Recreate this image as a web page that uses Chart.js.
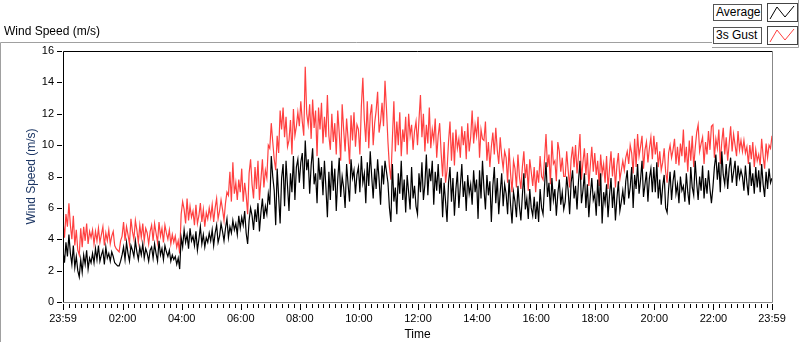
<!DOCTYPE html>
<html>
<head>
<meta charset="utf-8">
<script src="https://cdn.jsdelivr.net/npm/chart.js@4.4.1/dist/chart.umd.min.js"></script>
<style>
  body { margin: 0; background: #fff; }
  #wrap { position: relative; width: 800px; height: 342px; overflow: hidden; }
  #chart { position: absolute; left: 0; top: 0; }
  .lbl { position: absolute; font: 12px "Liberation Sans", Arial, sans-serif; color: #000; white-space: nowrap; }
  .legName { position: absolute; height: 17px; line-height: 17px; border: 1px solid #555; background: #fff;
             font: 12px "Liberation Sans", Arial, sans-serif; padding: 0 2px; box-sizing: border-box; }
  .legIcon { position: absolute; width: 31px; height: 19px; border: 1px solid #444; background: #fff; box-sizing: border-box; }
</style>
</head>
<body>
<div id="wrap">
  <canvas id="chart" width="800" height="342"></canvas>
  <div class="lbl" style="left:4px; top:24px;">Wind Speed (m/s)</div>
  <div class="legName" style="left:713px; top:4px; width:49px;">Average</div>
  <div class="legIcon" style="left:767px; top:3px;">
    <svg width="29" height="17"><polyline points="2,15 9,3 17,13 26,2" fill="none" stroke="#000" stroke-width="1"/></svg>
  </div>
  <div class="legName" style="left:713px; top:27px; width:49px;">3s Gust</div>
  <div class="legIcon" style="left:767px; top:26px;">
    <svg width="29" height="17"><polyline points="2,15 9,3 17,13 26,2" fill="none" stroke="#ff4040" stroke-width="1"/></svg>
  </div>
</div>
<script>
// Wind speed over one day, one sample every 3 minutes
const STEP_MIN = 3;

// Average wind speed (m/s), one row = one hour
const avgSpeed = [
  3.3, 2.5, 3.8, 2.9, 4.3, 3.1, 2.4, 3.6, 2.2, 2.9, 2.0, 1.6, 2.7, 1.9, 3.0, 2.4, 3.3, 2.1, 2.8, 2.5,
  3.1, 2.5, 3.4, 2.7, 3.6, 2.6, 3.0, 3.3, 2.4, 3.5, 2.8, 3.1, 2.6, 3.2, 2.9, 2.5, 2.4, 2.3, 2.3, 2.6,
  3.0, 3.5, 2.7, 3.8, 3.1, 2.6, 3.6, 3.3, 2.9, 3.9, 3.2, 2.7, 3.5, 3.0, 3.7, 2.8, 3.4, 3.1, 2.6, 3.3,
  3.5, 2.8, 3.7, 3.1, 2.6, 3.9, 3.0, 3.4, 2.7, 3.6, 3.2, 2.9, 3.3, 2.6, 3.0, 2.7, 2.9, 2.4, 2.8, 2.1,
  4.1, 3.5, 4.6, 3.8, 4.3, 3.4, 4.7, 3.9, 4.2, 3.6, 4.5, 3.3, 4.0, 4.8, 3.7, 4.3, 3.5, 4.1, 3.8, 4.4,
  3.9, 4.6, 3.6, 4.4, 4.9, 3.8, 4.2, 5.0, 4.5, 3.9, 4.7, 5.3, 4.1, 4.8, 4.4, 5.2, 4.6, 5.0, 4.3, 5.5,
  4.7, 5.4, 4.9, 5.8, 4.4, 3.7, 5.2, 6.0, 5.5, 4.6, 5.9, 5.1, 6.3, 4.5, 5.7, 6.6, 5.3, 6.1, 5.6, 6.9,
  6.2, 9.3, 8.0, 7.1, 4.9, 8.5, 6.7, 5.0, 7.9, 8.8, 6.1, 9.0, 7.4, 5.8, 8.2, 7.0, 9.3, 6.5, 8.6, 9.1,
  7.6, 8.9, 9.5, 7.2, 10.3, 8.4, 9.1, 6.9, 8.7, 9.8, 7.5, 8.2, 6.3, 9.2, 7.8, 8.6, 6.8, 9.0, 7.3, 5.4,
  8.3, 6.5, 9.0, 7.1, 8.5, 5.8, 7.8, 9.2, 6.7, 8.0, 7.3, 6.0, 8.8, 7.5, 6.4, 9.1, 7.9, 8.4, 6.9, 8.1,
  8.6, 7.0, 9.3, 7.6, 8.2, 6.3, 8.9, 7.4, 9.6, 8.0, 6.6, 8.5, 7.2, 9.1, 7.8, 6.2, 8.7, 7.5, 9.0, 8.3,
  7.6, 6.0, 5.1, 8.8, 6.4, 7.3, 5.6, 8.2, 6.9, 9.0, 6.5, 7.8, 5.7, 8.1, 7.0, 5.9, 8.6, 6.6, 7.4, 6.1,
  5.6, 8.2, 7.0, 8.9, 6.5, 7.5, 9.4, 6.8, 8.5, 7.7, 9.0, 6.2, 8.3, 7.1, 8.8, 6.9, 7.9, 5.4, 7.6, 6.4,
  5.1, 7.6, 8.6, 6.4, 7.9, 5.5, 7.2, 8.3, 6.0, 7.4, 8.8, 6.7, 7.7, 5.8, 8.1, 6.9, 7.5, 6.2, 8.4, 7.0,
  7.8, 5.3, 8.4, 6.6, 9.0, 7.2, 5.9, 8.1, 6.8, 7.7, 5.1, 7.4, 8.6, 6.3, 7.9, 5.6, 7.0, 8.2, 6.1, 7.5,
  6.9, 5.6, 7.8, 6.2, 5.0, 7.0, 6.4, 5.4, 7.4, 6.1, 5.2, 6.8, 8.2, 5.9, 6.6, 5.3, 7.2, 6.0, 5.5, 6.7,
  5.3, 6.4, 5.1, 7.2, 6.0, 5.6, 7.4, 8.9, 6.7, 7.6, 5.8, 7.9, 6.5, 7.2, 5.5, 6.9, 7.8, 6.2, 7.0, 5.9,
  6.4, 8.0, 7.1, 5.6, 7.6, 8.4, 6.6, 7.4, 5.9, 7.7, 9.0, 6.3, 7.1, 8.2, 6.0, 7.5, 5.4, 6.8, 7.9, 6.5,
  6.9, 5.5, 7.8, 6.1, 8.2, 5.0, 7.0, 6.3, 7.5, 5.4, 6.8, 7.9, 6.0, 7.3, 5.2, 6.6, 7.7, 5.8, 6.4, 7.1,
  6.2, 7.7, 8.4, 6.6, 7.3, 8.6, 6.0, 8.1, 7.2, 8.8, 6.9, 7.8, 9.0, 6.7, 7.5, 8.3, 6.4, 7.9, 8.5, 7.0,
  8.6, 7.0, 8.9, 6.6, 7.8, 6.2, 7.4, 8.1, 6.0, 5.7, 7.2, 8.3, 6.5, 7.7, 8.4, 6.9, 7.5, 6.3, 8.0, 7.1,
  7.4, 6.4, 8.2, 7.0, 6.2, 8.6, 7.3, 6.8, 9.0, 7.6, 6.5, 8.0, 7.1, 8.7, 6.6, 7.9, 6.9, 8.4, 7.2, 6.3,
  7.3, 8.6, 9.4, 7.8, 8.9, 7.0, 9.6, 8.1, 7.5, 8.8, 7.2, 8.5, 9.2, 7.6, 8.3, 9.0, 7.4, 8.7, 7.9, 8.4,
  8.0, 7.1, 8.7, 7.6, 6.8, 8.9, 7.4, 8.2, 6.9, 8.6, 7.3, 8.4, 7.0, 8.8, 7.5, 6.7, 8.3, 7.2, 8.5, 7.6,
  7.9
];

// 3 second gust (m/s)
const gustSpeed = [
  5.2, 4.1, 5.6, 4.8, 6.3, 4.9, 4.0, 5.5, 3.6, 4.6, 3.3, 3.0, 4.7, 3.5, 4.8, 3.9, 5.0, 3.7, 4.5, 4.1,
  4.6, 3.7, 4.5, 3.9, 4.7, 3.8, 4.3, 4.8, 3.6, 4.4, 3.9, 4.6, 3.7, 4.2, 4.5, 3.6, 3.4, 3.3, 3.2, 3.9,
  4.2, 5.1, 3.9, 4.8, 4.3, 3.7, 5.3, 4.5, 4.0, 5.2, 4.6, 3.8, 4.9, 4.1, 5.0, 3.9, 4.7, 4.4, 3.7, 4.5,
  4.9, 3.9, 5.0, 4.4, 3.8, 5.1, 4.2, 4.7, 3.8, 4.9, 4.4, 4.0, 4.6, 3.7, 4.3, 3.8, 4.2, 3.5, 3.9, 3.1,
  5.6, 6.4, 5.9, 5.0, 6.6, 5.2, 6.1, 5.4, 5.8, 4.9, 6.2, 5.0, 5.5, 6.3, 5.1, 5.9, 4.8, 5.7, 5.3, 6.0,
  5.4, 6.2, 5.1, 6.0, 6.6, 5.3, 5.8, 6.5, 5.9, 5.2, 6.3, 7.0, 6.8, 8.3, 6.4, 8.9, 6.9, 7.6, 6.5, 7.8,
  7.0, 8.5, 6.4, 7.6, 6.8, 5.6, 8.2, 9.1, 7.5, 6.6, 8.6, 7.2, 9.0, 6.5, 7.8, 9.1, 7.3, 8.4, 7.9, 10.0,
  9.8, 11.4, 10.2, 9.1, 8.4, 10.6, 9.5, 12.2, 11.0, 12.4, 10.5, 11.8, 9.9, 10.3, 11.6, 9.4, 12.3, 10.6, 11.2, 12.1,
  11.2, 12.8, 11.5, 10.6, 15.0, 12.0, 11.3, 12.6, 10.4, 12.9, 11.1, 12.2, 9.3, 12.4, 11.0, 12.7, 10.1, 11.8, 10.5, 13.2,
  10.6, 9.7, 12.0, 10.2, 11.4, 9.4, 12.2, 10.8, 9.0, 12.6, 11.0, 9.6, 11.7, 10.4, 8.8, 11.9, 10.3, 12.1, 9.9, 11.3,
  11.0, 9.4, 12.5, 14.3, 11.6, 10.2, 12.8, 9.8, 11.9, 12.6, 10.0, 11.4, 12.2, 13.4, 10.8, 11.5, 12.7, 11.2, 14.1, 12.3,
  10.2, 8.6, 7.8, 10.4, 12.8, 9.6, 11.5, 10.0, 12.1, 9.3, 11.0, 10.2, 11.8, 9.4, 12.0, 10.6, 11.3, 9.7, 10.9, 11.5,
  10.0, 11.6, 13.2, 10.5, 12.0, 9.6, 11.3, 10.1, 12.4, 9.8, 11.0, 10.3, 11.7, 9.2, 10.6, 11.4, 9.5, 8.0, 10.2, 7.6,
  8.4, 10.2, 11.5, 9.0, 10.8, 8.7, 11.0, 9.8, 10.4, 9.2, 11.2, 10.0, 10.9, 9.1, 11.4, 9.6, 10.5, 12.2, 10.1, 11.3,
  10.6, 11.8, 9.2, 11.0, 10.4, 10.3, 11.5, 9.0, 10.2, 8.6, 9.9, 10.8, 9.4, 11.1, 9.7, 8.8, 10.5, 9.3, 8.5, 9.6,
  9.2, 7.6, 9.8, 8.2, 7.0, 9.0, 8.5, 7.3, 9.4, 8.0, 7.2, 8.6, 9.6, 7.9, 8.8, 7.1, 9.1, 8.3, 7.4, 8.6,
  7.0, 8.4, 7.6, 9.3, 8.0, 7.8, 9.1, 10.7, 8.6, 9.4, 7.5, 10.3, 8.8, 9.0, 7.7, 10.2, 9.6, 8.3, 9.2, 8.0,
  8.0, 9.6, 8.4, 7.3, 9.1, 9.9, 8.6, 10.0, 8.2, 9.4, 10.7, 7.8, 8.9, 9.8, 8.1, 9.5, 7.4, 8.7, 9.9, 8.3,
  9.5, 8.1, 9.0, 7.4, 9.4, 8.2, 8.8, 7.6, 9.3, 7.2, 8.5, 9.6, 8.0, 9.2, 7.3, 8.7, 9.5, 7.8, 8.4, 9.0,
  8.4, 9.2, 9.6, 8.8, 10.0, 9.5, 8.2, 10.4, 8.6, 10.7, 9.3, 9.9, 10.6, 8.5, 9.7, 10.2, 8.9, 9.8, 10.5, 9.1,
  10.6, 9.4, 10.2, 8.6, 9.6, 8.4, 8.9, 9.8, 8.3, 7.6, 9.5, 10.0, 9.2, 9.7, 10.4, 8.8, 9.9, 8.7, 10.1, 9.3,
  11.0, 8.9, 9.9, 8.3, 10.3, 9.0, 10.6, 8.6, 9.8, 10.8, 11.3, 9.6, 10.1, 10.5, 8.8, 10.2, 9.4, 10.9, 9.7, 11.2,
  11.3, 9.2, 10.4, 9.8, 11.0, 8.8, 10.2, 11.1, 9.4, 10.5, 9.0, 10.1, 11.2, 9.6, 10.7, 10.0, 9.3, 10.9, 9.7, 10.3,
  9.6, 10.3, 9.5, 9.9, 8.8, 10.0, 9.1, 10.2, 8.6, 9.7, 9.0, 9.4, 8.7, 10.4, 9.3, 8.5, 10.1, 9.2, 10.0, 9.8,
  10.6
];

// Time axis: minutes after 23:59 of the previous day
const majorTickMin = [0, 121, 241, 361, 481, 601, 721, 841, 961, 1081, 1201, 1321, 1440];
const majorTickLabels = ['23:59', '02:00', '04:00', '06:00', '08:00', '10:00', '12:00',
                         '14:00', '16:00', '18:00', '20:00', '22:00', '23:59'];
const yTicks = [0, 2, 4, 6, 8, 10, 12, 14, 16];

// minor ticks every 12 minutes between the labelled ones
const minorTickMin = [];
for (let m = 13; m < 1440; m += 12) {
  if (!majorTickMin.includes(m)) minorTickMin.push(m);
}

const toPoints = arr => arr.map((v, i) => ({ x: i * STEP_MIN, y: v }));

// Frame, outer panel and tick marks (LabVIEW graph look)
const frameTicks = {
  id: 'frameTicks',
  afterDraw(chart) {
    const { ctx, chartArea: a, scales } = chart;
    ctx.save();
    ctx.lineWidth = 1;

    // outer panel
    ctx.strokeStyle = '#a0a0a0';
    ctx.beginPath();
    ctx.moveTo(0.5, 342); ctx.lineTo(0.5, 42.5); ctx.lineTo(712, 42.5);
    ctx.moveTo(712, 47.5); ctx.lineTo(798.5, 47.5); ctx.lineTo(798.5, 0);
    ctx.stroke();

    // plot frame: dark top/left, grey right/bottom
    ctx.strokeStyle = '#000';
    ctx.beginPath();
    ctx.moveTo(a.left + 0.5, a.bottom); ctx.lineTo(a.left + 0.5, a.top + 0.5); ctx.lineTo(a.right, a.top + 0.5);
    ctx.stroke();
    ctx.strokeStyle = '#888';
    ctx.beginPath();
    ctx.moveTo(a.right + 0.5, a.top); ctx.lineTo(a.right + 0.5, a.bottom + 0.5); ctx.lineTo(a.left, a.bottom + 0.5);
    ctx.stroke();

    // x ticks
    ctx.strokeStyle = '#000';
    ctx.beginPath();
    majorTickMin.forEach(m => {
      const x = Math.round(scales.x.getPixelForValue(m)) + 0.5;
      ctx.moveTo(x, a.bottom + 2); ctx.lineTo(x, a.bottom + 8);
    });
    minorTickMin.forEach(m => {
      const x = Math.round(scales.x.getPixelForValue(m)) + 0.5;
      ctx.moveTo(x, a.bottom + 2); ctx.lineTo(x, a.bottom + 6);
    });
    ctx.stroke();

    // y ticks
    ctx.beginPath();
    yTicks.forEach(v => {
      const y = Math.round(scales.y.getPixelForValue(v)) + 0.5;
      ctx.moveTo(a.left - 6, y); ctx.lineTo(a.left - 1, y);
    });
    ctx.stroke();
    ctx.restore();
  }
};

const ctx = document.getElementById('chart').getContext('2d');
new Chart(ctx, {
  type: 'line',
  data: {
    datasets: [
      {
        label: 'Average',
        data: toPoints(avgSpeed),
        borderColor: '#000000',
        borderWidth: 1.2,
        pointRadius: 0,
        tension: 0,
        order: 0
      },
      {
        label: '3s Gust',
        data: toPoints(gustSpeed),
        borderColor: '#ff4040',
        borderWidth: 1.2,
        pointRadius: 0,
        tension: 0,
        order: 1
      }
    ]
  },
  options: {
    responsive: false,
    animation: false,
    layout: { padding: { top: 51, right: 28, left: 0, bottom: 0 } },
    plugins: {
      legend: { display: false },
      tooltip: { enabled: false }
    },
    scales: {
      x: {
        type: 'linear',
        min: 0,
        max: 1440,
        grid: { display: false },
        border: { display: false },
        afterBuildTicks: s => { s.ticks = majorTickMin.map(v => ({ value: v })); },
        afterFit: s => { s.height = 40; },
        ticks: {
          autoSkip: false,
          maxRotation: 0,
          padding: 2,
          color: '#000',
          font: { family: '"Liberation Sans", Arial, sans-serif', size: 11 },
          callback: (v) => majorTickLabels[majorTickMin.indexOf(v)]
        },
        title: {
          display: true,
          text: 'Time',
          color: '#000',
          padding: { top: 0, bottom: 0 },
          font: { family: '"Liberation Sans", Arial, sans-serif', size: 12 }
        }
      },
      y: {
        min: 0,
        max: 16,
        grid: { display: false },
        border: { display: false },
        afterBuildTicks: s => { s.ticks = yTicks.map(v => ({ value: v })); },
        afterFit: s => { s.width = 63; },
        ticks: {
          padding: 1,
          color: '#000',
          font: { family: '"Liberation Sans", Arial, sans-serif', size: 11 }
        },
        title: {
          display: true,
          text: 'Wind Speed (m/s)',
          color: '#1c3664',
          padding: { top: 24, bottom: 0 },
          font: { family: '"Liberation Sans", Arial, sans-serif', size: 12 }
        }
      }
    }
  },
  plugins: [frameTicks]
});
</script>
</body>
</html>
